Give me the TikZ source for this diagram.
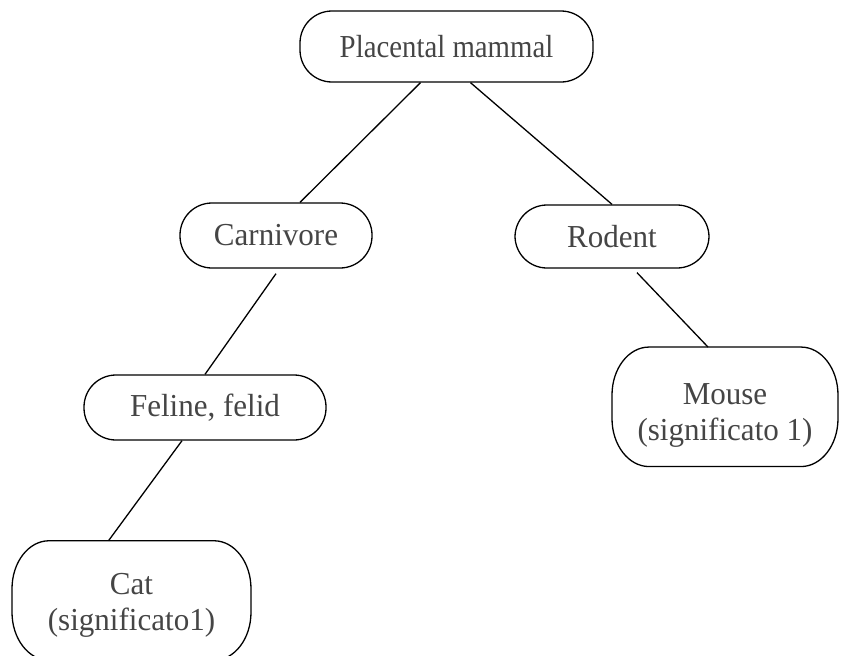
\documentclass[tikz,border=0pt]{standalone}
\usepackage{fontspec}
\setmainfont{Liberation Serif}
\newfontfamily\labelfont[FakeStretch=0.97]{Liberation Serif}
\newfontfamily\rootfont[FakeStretch=0.9]{Liberation Serif}
% oval frame with elliptical corners around an (undrawn) node
\newcommand\ovalframe[1]{%
  \draw[frame] ([xshift=37pt]#1.north west) -- ([xshift=-37pt]#1.north east)
    arc[start angle=90, end angle=0, x radius=37pt, y radius=48pt]
    -- ([yshift=48pt]#1.south east)
    arc[start angle=0, end angle=-90, x radius=37pt, y radius=48pt]
    -- ([xshift=37pt]#1.south west)
    arc[start angle=270, end angle=180, x radius=37pt, y radius=48pt]
    -- ([yshift=-48pt]#1.north west)
    arc[start angle=180, end angle=90, x radius=37pt, y radius=48pt] -- cycle;}
\begin{document}
\begin{tikzpicture}[x=1pt,y=-1pt,
  every node/.style={font=\labelfont\fontsize{32}{36}\selectfont, text=black!73},
  frame/.style={draw=black, line width=1.3pt},
  pill/.style={frame, rounded corners=32pt, align=center, inner sep=0pt},
  ovalbox/.style={inner sep=0pt, outer sep=0pt},
  ovaltext/.style={align=center, inner sep=0pt},
  link/.style={draw=black, line width=1.3pt}]
  \useasboundingbox (0,0) rectangle (844,656);
  % nodes of the taxonomy tree
  \node[pill, minimum width=293pt, minimum height=71pt,
        font=\rootfont\fontsize{32}{36}\selectfont] (pm) at (446.5,46.5) {Placental mammal};
  \node[pill, minimum width=192pt, minimum height=65pt] (carn) at (276,235.5) {Carnivore};
  \node[pill, minimum width=194pt, minimum height=63pt] (rod) at (612,236.5) {Rodent};
  \node[pill, minimum width=242pt, minimum height=65pt] (fel) at (205,407.5) {Feline, felid};
  % two-line leaves: frame node plus its text
  \node[ovalbox, minimum width=226pt, minimum height=119.5pt] (mouse) at (725,406.8) {};
  \node[ovaltext] (mousetext) at (725,415.5) {Mouse\\(significato 1)};
  \ovalframe{mouse}
  \node[ovalbox, minimum width=239pt, minimum height=119.5pt] (cat) at (131.5,600.5) {};
  \node[ovaltext] (cattext) at (131.5,605) {Cat\\(significato1)};
  \ovalframe{cat}
  % connectors
  \draw[link] ([xshift=-26pt]pm.south) -- ([xshift=24pt]carn.north);
  \draw[link] ([xshift=24pt]pm.south) -- (rod.north);
  \draw[link] ([yshift=-5pt]carn.south) -- (fel.north);
  \draw[link] ([xshift=-23pt]fel.south) -- ([xshift=-23pt]cat.north);
  \draw[link] ([xshift=25pt,yshift=-4pt]rod.south) -- ([xshift=-17pt]mouse.north);
\end{tikzpicture}
\end{document}
